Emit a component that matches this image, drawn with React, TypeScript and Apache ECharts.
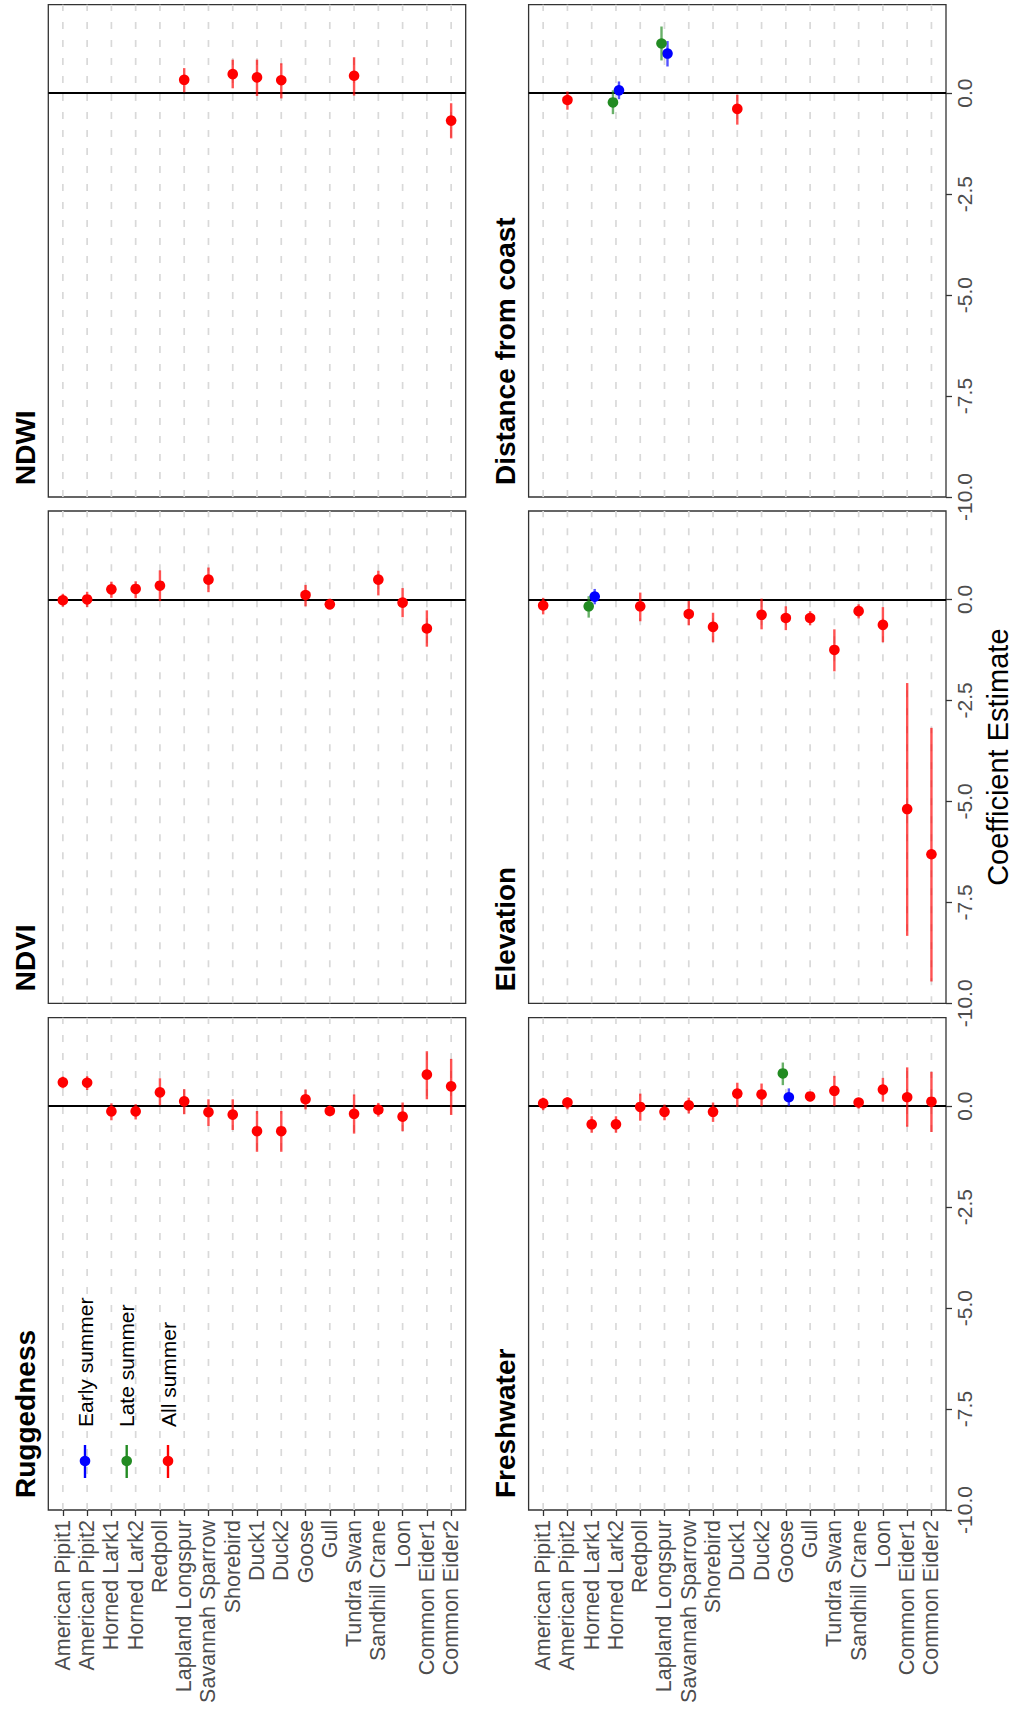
import React, { useEffect, useRef } from "react";
import * as echarts from "echarts";

const species = [
  "American Pipit1", "American Pipit2", "Horned Lark1", "Horned Lark2", "Redpoll",
  "Lapland Longspur", "Savannah Sparrow", "Shorebird", "Duck1", "Duck2", "Goose",
  "Gull", "Tundra Swan", "Sandhill Crane", "Loon", "Common Eider1", "Common Eider2",
];
const valueTicks = [-10, -7.5, -5, -2.5, 0];
const seasonNames = ["Early summer", "Late summer", "All summer"];

// rows: [species, estimate, lower, upper]
const ndwiAll = [
  ["Lapland Longspur", 0.33, 0.02, 0.62],
  ["Shorebird", 0.47, 0.12, 0.83],
  ["Duck1", 0.39, -0.07, 0.83],
  ["Duck2", 0.32, -0.13, 0.74],
  ["Tundra Swan", 0.43, -0.06, 0.89],
  ["Common Eider2", -0.68, -1.12, -0.25],
];
const distanceEarly = [
  ["Horned Lark2", 0.07, -0.15, 0.29],
  ["Lapland Longspur", 0.98, 0.66, 1.29],
];
const distanceLate = [
  ["Horned Lark2", -0.23, -0.52, 0.07],
  ["Lapland Longspur", 1.23, 0.81, 1.65],
];
const distanceAll = [
  ["American Pipit2", -0.17, -0.41, 0.04],
  ["Duck1", -0.39, -0.78, -0.04],
];
const ndviAll = [
  ["American Pipit1", -0.02, -0.18, 0.14],
  ["American Pipit2", 0.0, -0.19, 0.19],
  ["Horned Lark1", 0.25, 0.04, 0.44],
  ["Horned Lark2", 0.26, 0.03, 0.45],
  ["Redpoll", 0.34, -0.04, 0.72],
  ["Savannah Sparrow", 0.49, 0.18, 0.79],
  ["Goose", 0.11, -0.17, 0.36],
  ["Gull", -0.12, -0.25, 0.02],
  ["Sandhill Crane", 0.49, 0.1, 0.71],
  ["Loon", -0.08, -0.44, 0.28],
  ["Common Eider1", -0.72, -1.17, -0.27],
];
const elevationEarly = [["Horned Lark1", 0.07, -0.12, 0.26]];
const elevationLate = [["Horned Lark1", -0.17, -0.45, 0.08]];
const elevationAll = [
  ["American Pipit1", -0.15, -0.37, 0.04],
  ["Redpoll", -0.17, -0.54, 0.17],
  ["Savannah Sparrow", -0.36, -0.64, -0.04],
  ["Shorebird", -0.68, -1.06, -0.33],
  ["Duck2", -0.38, -0.74, 0.02],
  ["Goose", -0.46, -0.76, -0.17],
  ["Gull", -0.46, -0.64, -0.29],
  ["Tundra Swan", -1.25, -1.78, -0.74],
  ["Sandhill Crane", -0.29, -0.47, -0.12],
  ["Loon", -0.63, -1.06, -0.19],
  ["Common Eider1", -5.19, -8.33, -2.07],
  ["Common Eider2", -6.31, -9.46, -3.18],
];
const ruggednessAll = [
  ["American Pipit1", 0.59, 0.44, 0.73],
  ["American Pipit2", 0.58, 0.4, 0.74],
  ["Horned Lark1", -0.13, -0.35, 0.07],
  ["Horned Lark2", -0.13, -0.33, 0.05],
  ["Redpoll", 0.34, 0.02, 0.69],
  ["Lapland Longspur", 0.12, -0.2, 0.42],
  ["Savannah Sparrow", -0.15, -0.49, 0.17],
  ["Shorebird", -0.21, -0.59, 0.17],
  ["Duck1", -0.62, -1.13, -0.12],
  ["Duck2", -0.62, -1.13, -0.12],
  ["Goose", 0.17, -0.08, 0.41],
  ["Gull", -0.12, -0.25, 0.02],
  ["Tundra Swan", -0.19, -0.68, 0.29],
  ["Sandhill Crane", -0.09, -0.26, 0.08],
  ["Loon", -0.26, -0.62, 0.09],
  ["Common Eider1", 0.78, 0.17, 1.36],
  ["Common Eider2", 0.49, -0.22, 1.17],
];
const freshwaterEarly = [["Goose", 0.22, 0.0, 0.44]];
const freshwaterLate = [["Goose", 0.81, 0.52, 1.08]];
const freshwaterAll = [
  ["American Pipit1", 0.07, -0.1, 0.21],
  ["American Pipit2", 0.09, -0.08, 0.22],
  ["Horned Lark1", -0.45, -0.66, -0.25],
  ["Horned Lark2", -0.45, -0.66, -0.25],
  ["Redpoll", -0.02, -0.36, 0.31],
  ["Lapland Longspur", -0.14, -0.35, 0.04],
  ["Savannah Sparrow", 0.02, -0.18, 0.21],
  ["Shorebird", -0.14, -0.39, 0.09],
  ["Duck1", 0.31, -0.02, 0.58],
  ["Duck2", 0.29, 0.0, 0.56],
  ["Gull", 0.24, 0.12, 0.34],
  ["Tundra Swan", 0.38, 0.0, 0.75],
  ["Sandhill Crane", 0.09, -0.06, 0.19],
  ["Loon", 0.41, 0.11, 0.7],
  ["Common Eider1", 0.22, -0.51, 0.96],
  ["Common Eider2", 0.11, -0.64, 0.85],
];

const panels = [
  { title: "NDWI", row: 0, col: 0, early: [], late: [], all: ndwiAll },
  { title: "Distance from coast", row: 0, col: 1, early: distanceEarly, late: distanceLate, all: distanceAll },
  { title: "NDVI", row: 1, col: 0, early: [], late: [], all: ndviAll },
  { title: "Elevation", row: 1, col: 1, early: elevationEarly, late: elevationLate, all: elevationAll },
  { title: "Ruggedness", row: 2, col: 0, early: [], late: [], all: ruggednessAll },
  { title: "Freshwater", row: 2, col: 1, early: freshwaterEarly, late: freshwaterLate, all: freshwaterAll },
];

const FONT = "'Liberation Sans', Arial, Helvetica, sans-serif";
const COLORS = { early: "#0000ff", late: "#228b22", all: "#ff0000" };
const DODGE = { early: 3, late: -3, all: 0 };
const colLeft = [48.3, 528.6];
const colWidth = [417.4, 417.4];
const titleX = [25, 505];
const rowTop = [4.7, 511, 1017.7];
const rowHeight = 492.3;
const Y_MIN = -10;
const Y_MAX = 2.19;

function buildOption() {
  const grid: any[] = [];
  const xAxis: any[] = [];
  const yAxis: any[] = [];
  const series: any[] = [];
  const graphic: any[] = [];
  const idxs = species.map((_, i) => i);

  panels.forEach((p, i) => {
    grid.push({
      left: colLeft[p.col],
      top: rowTop[p.row],
      width: colWidth[p.col],
      height: rowHeight,
      show: true,
      borderColor: "#333333",
      borderWidth: 1.3,
      backgroundColor: "#ffffff",
      containLabel: false,
    });
    const showX = p.row === 2;
    xAxis.push({
      type: "value",
      gridIndex: i,
      min: -0.6,
      max: 16.6,
      position: "bottom",
      axisLine: { show: false, onZero: false },
      splitLine: { show: false },
      axisTick: {
        show: showX,
        customValues: idxs,
        length: 6,
        lineStyle: { color: "#333333", width: 1.3 },
      },
      axisLabel: {
        show: showX,
        customValues: idxs,
        rotate: 90,
        margin: 10,
        fontSize: 21.5,
        color: "#4d4d4d",
        fontFamily: FONT,
        formatter: (v: number) => species[Math.round(v)] ?? "",
      },
    });
    const showY = p.col === 1;
    yAxis.push({
      type: "value",
      gridIndex: i,
      min: Y_MIN,
      max: Y_MAX,
      position: "right",
      axisLine: { show: false, onZero: false },
      splitLine: { show: false },
      axisTick: {
        show: showY,
        customValues: valueTicks,
        length: 6,
        lineStyle: { color: "#333333", width: 1.3 },
      },
      axisLabel: {
        show: showY,
        customValues: valueTicks,
        rotate: 90,
        margin: 8,
        fontSize: 21,
        color: "#4d4d4d",
        fontFamily: FONT,
        formatter: (v: number) => v.toFixed(1),
      },
    });

    // category gridlines + zero line
    series.push({
      type: "custom",
      xAxisIndex: i,
      yAxisIndex: i,
      z: 1,
      silent: true,
      data: idxs.map((k) => [k, 0]),
      encode: { x: 0, y: 1 },
      renderItem: (params: any, api: any) => {
        const k = api.value(0);
        const top = api.coord([k, Y_MAX]);
        const bot = api.coord([k, Y_MIN]);
        return {
          type: "line",
          shape: { x1: bot[0], y1: bot[1], x2: top[0], y2: top[1] },
          style: { stroke: "#d9d9d9", lineWidth: 1.7, lineDash: [7, 11] },
        };
      },
      markLine: {
        silent: true,
        symbol: ["none", "none"],
        label: { show: false },
        lineStyle: { color: "#000000", width: 2, type: "solid" },
        data: [{ yAxis: 0 }],
        animation: false,
      },
    });

    (["all", "early", "late"] as const).forEach((key) => {
      const rows = (p as any)[key] as any[];
      if (!rows.length) return;
      const color = COLORS[key];
      const dx = DODGE[key];
      series.push({
        type: "custom",
        name: seasonNames[key === "early" ? 0 : key === "late" ? 1 : 2],
        xAxisIndex: i,
        yAxisIndex: i,
        z: 10,
        data: rows.map((r) => [species.indexOf(r[0]), r[1], r[2], r[3]]),
        encode: { x: 0, y: [1, 2, 3] },
        renderItem: (params: any, api: any) => {
          const k = api.value(0);
          const est = api.coord([k, api.value(1)]);
          const lo = api.coord([k, api.value(2)]);
          const hi = api.coord([k, api.value(3)]);
          return {
            type: "group",
            children: [
              {
                type: "line",
                shape: { x1: lo[0] + dx, y1: lo[1], x2: hi[0] + dx, y2: hi[1] },
                style: { stroke: color, lineWidth: 2.4, opacity: 0.68 },
              },
              {
                type: "circle",
                shape: { cx: est[0] + dx, cy: est[1], r: 5.3 },
                style: { fill: color },
              },
            ],
          };
        },
      });
    });

    // panel title
    graphic.push({
      type: "text",
      x: titleX[p.col],
      y: rowTop[p.row] + rowHeight - 12,
      rotation: Math.PI / 2,
      style: {
        text: p.title,
        font: `bold 28px ${FONT}`,
        fill: "#000000",
        align: "left",
        verticalAlign: "middle",
      },
    });
  });

  // axis title
  graphic.push({
    type: "text",
    x: 998,
    y: rowTop[1] + rowHeight / 2,
    rotation: Math.PI / 2,
    style: {
      text: "Coefficient Estimate",
      font: `29px ${FONT}`,
      fill: "#000000",
      align: "center",
      verticalAlign: "middle",
    },
  });

  // legend
  const legendX = [85, 126.7, 168];
  const legendColors = [COLORS.early, COLORS.late, COLORS.all];
  seasonNames.forEach((name, j) => {
    const x = legendX[j];
    graphic.push({
      type: "line",
      shape: { x1: x, y1: 1445, x2: x, y2: 1478 },
      style: { stroke: legendColors[j], lineWidth: 2.4 },
      z: 100,
    });
    graphic.push({
      type: "circle",
      shape: { cx: x, cy: 1461, r: 5.3 },
      style: { fill: legendColors[j] },
      z: 100,
    });
    graphic.push({
      type: "text",
      x: x,
      y: 1427,
      rotation: Math.PI / 2,
      z: 100,
      style: {
        text: name,
        font: `21px ${FONT}`,
        fill: "#000000",
        align: "left",
        verticalAlign: "middle",
      },
    });
  });

  return {
    animation: false,
    backgroundColor: "#ffffff",
    textStyle: { fontFamily: FONT },
    grid,
    xAxis,
    yAxis,
    series,
    graphic,
  };
}

export default function App() {
  const ref = useRef<HTMLDivElement>(null);
  useEffect(() => {
    if (!ref.current) return;
    const chart = echarts.init(ref.current, undefined, { renderer: "svg" });
    chart.setOption(buildOption() as any);
    return () => chart.dispose();
  }, []);
  return (
    <div
      ref={ref}
      style={{ position: "absolute", left: 0, top: 0, width: 1022, height: 1711, background: "#fff" }}
    />
  );
}
